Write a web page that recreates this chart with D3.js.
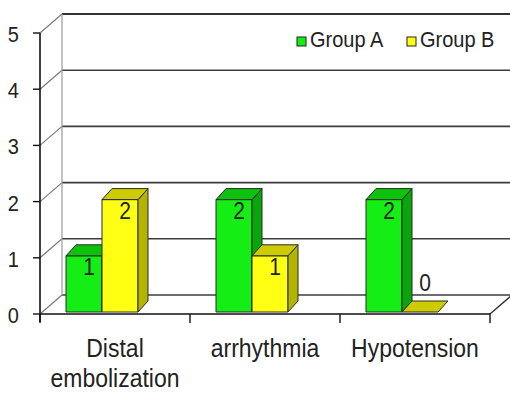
<!DOCTYPE html>
<html>
<head>
<meta charset="utf-8">
<script src="https://cdn.jsdelivr.net/npm/d3@7"></script>
<style>
  html, body { margin: 0; padding: 0; background: #fff; }
  svg { display: block; }
  text { font-family: "Liberation Sans", Arial, sans-serif; fill: #222; }
</style>
</head>
<body>
<svg id="chart" width="510" height="394"></svg>
<script>
// Complications per group
const categories = ["Distal embolization", "arrhythmia", "Hypotension"];
const categoryLines = [["Distal", "embolization"], ["arrhythmia"], ["Hypotension"]];
const seriesNames = ["Group A", "Group B"];
const groupA = [1, 2, 2];
const groupB = [2, 1, 0];
const yTicks = [0, 1, 2, 3, 4, 5];

const palette = {
  "Group A": { front: "#14ee14", side: "#0aa50a", top: "#0cc20c" },
  "Group B": { front: "#ffff14", side: "#b3b300", top: "#cccc00" }
};

const svg = d3.select("#chart");

// Front plane scales
const x = d3.scaleBand(categories, [40, 490]).paddingInner(0).paddingOuter(0);
const y = d3.scaleLinear([0, 5], [314, 33]);
const sub = d3.scaleBand(seriesNames, [0, 72]);

// Oblique offsets: wall depth and bar depth
const WX = 22, WY = -19;
const BX = 10, BY = -11;
const groupInset = 26;
const barLift = 2;

const stretch = "scale(1,1.12)";

// Back wall gridlines
const gridG = svg.append("g");
gridG.selectAll("line.back")
  .data(yTicks)
  .join("line")
  .attr("x1", 40 + WX).attr("x2", 490 + WX + 30)
  .attr("y1", d => y(d) + WY).attr("y2", d => y(d) + WY)
  .attr("stroke", d => d === 5 ? "#333" : "#3c3c3c")
  .attr("stroke-width", d => d === 5 ? 2 : 1.6);

// Left side wall: diagonals and back edge
gridG.selectAll("line.side")
  .data(yTicks)
  .join("line")
  .attr("x1", 40).attr("y1", d => y(d))
  .attr("x2", 40 + WX).attr("y2", d => y(d) + WY)
  .attr("stroke", "#7a7a7a").attr("stroke-width", 1.2);
gridG.append("line")
  .attr("x1", 40 + WX).attr("x2", 40 + WX)
  .attr("y1", y(0) + WY).attr("y2", y(5) + WY)
  .attr("stroke", "#9a9a9a").attr("stroke-width", 1.2);

// Floor right edge
gridG.append("line")
  .attr("x1", 490).attr("y1", y(0))
  .attr("x2", 490 + WX).attr("y2", y(0) + WY)
  .attr("stroke", "#333").attr("stroke-width", 1.4);

// Bars
const barData = [];
categories.forEach((c, i) => {
  [groupA[i], groupB[i]].forEach((v, j) => {
    barData.push({ cat: c, series: seriesNames[j], value: v });
  });
});

const barW = sub.bandwidth();
const base = y(0) - barLift;
const barsG = svg.append("g");
barData.forEach(d => {
  const x0 = x(d.cat) + groupInset + sub(d.series);
  const top = y(d.value) - barLift;
  const col = palette[d.series];
  const g = barsG.append("g").attr("stroke", "#2b2b2b").attr("stroke-width", 1).attr("stroke-linejoin", "round");
  if (d.value > 0) {
    g.append("rect")
      .attr("x", x0).attr("y", top).attr("width", barW).attr("height", base - top)
      .attr("fill", col.front);
    g.append("polygon")
      .attr("points", [[x0 + barW, top], [x0 + barW + BX, top + BY], [x0 + barW + BX, base + BY], [x0 + barW, base]].join(" "))
      .attr("fill", col.side);
  }
  g.append("polygon")
    .attr("points", [[x0, top], [x0 + barW, top], [x0 + barW + BX, top + BY], [x0 + BX, top + BY]].join(" "))
    .attr("fill", col.top);

  const lx = x0 + barW / 2 + BX / 2;
  const ly = d.value > 0 ? top + 19 : top - 21;
  barsG.append("text")
    .attr("transform", `translate(${lx},${ly}) ${stretch}`)
    .attr("text-anchor", "middle")
    .attr("font-size", 21)
    .text(d.value);
});

// Front axes
const axisG = svg.append("g");
axisG.append("line")
  .attr("x1", 40).attr("x2", 40)
  .attr("y1", y(5)).attr("y2", y(0) + 8)
  .attr("stroke", "#111").attr("stroke-width", 1.6);
axisG.append("line")
  .attr("x1", 40).attr("x2", 490)
  .attr("y1", y(0)).attr("y2", y(0))
  .attr("stroke", "#111").attr("stroke-width", 1.6);

// Y ticks and labels
axisG.selectAll("line.ytick")
  .data(yTicks)
  .join("line")
  .attr("x1", 33).attr("x2", 40)
  .attr("y1", d => y(d)).attr("y2", d => y(d))
  .attr("stroke", "#111").attr("stroke-width", 1.4);
axisG.selectAll("text.ylab")
  .data(yTicks)
  .join("text")
  .attr("transform", d => `translate(19,${y(d) + 9}) ${stretch}`)
  .attr("text-anchor", "end")
  .attr("font-size", 20)
  .text(d => d);

// X ticks at category boundaries
const bounds = categories.map(c => x(c)).concat([x.range()[1]]);
axisG.selectAll("line.xtick")
  .data(bounds)
  .join("line")
  .attr("x1", d => d).attr("x2", d => d)
  .attr("y1", y(0)).attr("y2", y(0) + 9)
  .attr("stroke", "#111").attr("stroke-width", 1.4);

// Category labels
categories.forEach((c, i) => {
  categoryLines[i].forEach((line, k) => {
    axisG.append("text")
      .attr("transform", `translate(${x(c) + x.bandwidth() / 2},${357 + k * 30}) ${stretch}`)
      .attr("text-anchor", "middle")
      .attr("font-size", 23)
      .text(line);
  });
});

// Legend
const legendX = [297, 407];
const legendG = svg.append("g");
seriesNames.forEach((s, i) => {
  legendG.append("rect")
    .attr("x", legendX[i]).attr("y", 37).attr("width", 9).attr("height", 9)
    .attr("fill", palette[s].front).attr("stroke", "#222").attr("stroke-width", 1);
  legendG.append("text")
    .attr("transform", `translate(${legendX[i] + 13},${47}) ${stretch}`)
    .attr("font-size", 20)
    .text(s);
});
</script>
</body>
</html>
